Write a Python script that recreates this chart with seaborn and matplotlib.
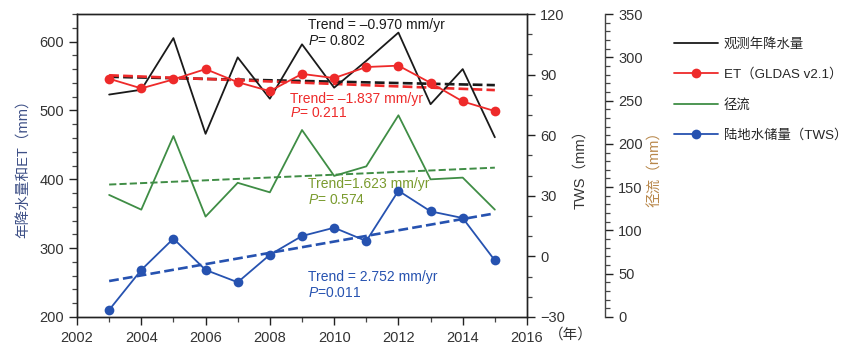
import matplotlib
matplotlib.use('Agg')
import matplotlib.pyplot as plt
from matplotlib.ticker import MultipleLocator
from matplotlib.lines import Line2D
import seaborn as sns
import numpy as np

# 数据
years = [2003, 2004, 2005, 2006, 2007, 2008, 2009, 2010, 2011, 2012, 2013, 2014, 2015]
precip = [523, 530, 605, 466, 577, 517, 596, 533, 572, 613, 509, 560, 461]
et = [546, 532, 545, 560, 541, 528, 553, 547, 563, 565, 540, 513, 499]
runoff = [141, 124, 209, 116, 155, 144, 216, 163, 174, 233, 159, 161, 124]
tws = [-26.5, -6.7, 8.8, -6.7, -12.8, 0.8, 10.1, 14.2, 7.6, 32.5, 22.3, 19.0, -2.0]

# 趋势线端点 (2003, 2015)
trend_x = [2003, 2015]
precip_trend = [548.8, 536.7]
et_trend = [551.0, 529.5]
runoff_trend = [153.0, 172.5]
tws_trend = [-12.2, 21.3]

c_black = '#1a1a1a'
c_red = '#ee2a2a'
c_green = '#3f8d45'
c_blue = '#2652b0'

sns.set_theme(style='ticks')
plt.rcParams['font.family'] = ['Liberation Sans', 'Noto Sans CJK SC', 'DejaVu Sans']
plt.rcParams['mathtext.fontset'] = 'custom'
plt.rcParams['mathtext.it'] = 'Liberation Sans:italic'
plt.rcParams['mathtext.rm'] = 'Liberation Sans'
plt.rcParams['axes.edgecolor'] = '#222222'
plt.rcParams['axes.linewidth'] = 1.0

fig = plt.figure(figsize=(8.57, 3.5), dpi=100)
ax = fig.add_axes([77 / 857, 1 - 317 / 350, 450 / 857, 303 / 350])
ax_tws = ax.twinx()
ax_run = ax.twinx()

lw = 1.3
dash = dict(linestyle='--', dashes=(2.2, 1.2), linewidth=1.9)

# 降水 & ET（左轴）
sns.lineplot(x=trend_x, y=precip_trend, ax=ax, color=c_black, **dash)
sns.lineplot(x=trend_x, y=et_trend, ax=ax, color=c_red, **dash)
sns.lineplot(x=years, y=precip, ax=ax, color=c_black, linewidth=lw)
sns.lineplot(x=years, y=et, ax=ax, color=c_red, linewidth=lw,
             marker='o', markersize=7, markeredgewidth=0)

# 径流
sns.lineplot(x=years, y=runoff, ax=ax_run, color=c_green, linewidth=lw)
sns.lineplot(x=trend_x, y=runoff_trend, ax=ax_run, color=c_green,
             linestyle='--', dashes=(2.5, 1.5), linewidth=1.4)

# TWS
sns.lineplot(x=years, y=tws, ax=ax_tws, color=c_blue, linewidth=lw,
             marker='o', markersize=7, markeredgewidth=0)
sns.lineplot(x=trend_x, y=tws_trend, ax=ax_tws, color=c_blue, **dash)

# 坐标轴
ax.set_xlim(2002, 2016)
ax.set_ylim(200, 640)
ax.xaxis.set_major_locator(MultipleLocator(2))
ax.xaxis.set_minor_locator(MultipleLocator(1))
ax.yaxis.set_major_locator(MultipleLocator(100))
ax.yaxis.set_minor_locator(MultipleLocator(20))
ax_tws.set_ylim(-30, 120)
ax_tws.yaxis.set_major_locator(MultipleLocator(30))
ax_tws.yaxis.set_minor_locator(MultipleLocator(10))
ax_run.set_ylim(0, 350)
ax_run.yaxis.set_major_locator(MultipleLocator(50))
ax_run.yaxis.set_minor_locator(MultipleLocator(10))

ax_run.spines['right'].set_position(('axes', 1.173))
for s in ['top', 'left', 'bottom']:
    ax_run.spines[s].set_visible(False)
ax_run.spines['right'].set_color('#444444')

for a in (ax, ax_tws, ax_run):
    a.tick_params(which='major', direction='out', length=6, width=1.0,
                  labelsize=10.5, labelcolor='#333333', color='#222222')
    a.tick_params(which='minor', direction='out', length=3.5, width=0.9,
                  color='#444444')
ax.tick_params(axis='x', pad=4)
ax.set_xlabel('')
ax_tws.set_xlabel('')
ax_run.set_xlabel('')

ax.set_ylabel('年降水量和ET（mm）', fontsize=10.5, color='#3d4f86', labelpad=6)
ax_tws.set_ylabel('TWS（mm）', fontsize=10.5, color='#333333', labelpad=6)
ax_run.set_ylabel('径流（mm）', fontsize=10.5, color='#b8874a', labelpad=4)

ax.annotate('（年）', xy=(2016, 200), xytext=(16, -13), textcoords='offset points',
            ha='left', va='center', fontsize=10.5, color='#333333',
            annotation_clip=False)

# 趋势标注
ts = 10
ax.text(2009.19, 624.6, 'Trend = –0.970 mm/yr', color=c_black, fontsize=ts, va='center')
ax.text(2009.19, 601, '$P$= 0.802', color=c_black, fontsize=ts, va='center')
ax.text(2008.63, 517, 'Trend= –1.837 mm/yr', color=c_red, fontsize=ts, va='center')
ax.text(2008.63, 495.6, '$P$= 0.211', color=c_red, fontsize=ts, va='center')
ax.text(2009.19, 392.8, 'Trend=1.623 mm/yr', color='#7a9b2e', fontsize=ts, va='center')
ax.text(2009.19, 369.6, '$P$= 0.574', color='#7a9b2e', fontsize=ts, va='center')
ax.text(2009.19, 258, 'Trend = 2.752 mm/yr', color=c_blue, fontsize=ts, va='center')
ax.text(2009.19, 234.8, '$P$=0.011', color=c_blue, fontsize=ts, va='center')

# 图例
handles = [
    Line2D([], [], color=c_black, linewidth=lw),
    Line2D([], [], color=c_red, linewidth=lw, marker='o', markersize=7, markeredgewidth=0),
    Line2D([], [], color=c_green, linewidth=lw),
    Line2D([], [], color=c_blue, linewidth=lw, marker='o', markersize=7, markeredgewidth=0),
]
labels = ['观测年降水量', 'ET（GLDAS v2.1）', '径流', '陆地水储量（TWS）']
fig.legend(handles, labels, loc='upper left', bbox_to_anchor=(0.772, 0.925),
           frameon=False, fontsize=9.6, handlelength=3.3, handletextpad=0.45,
           labelspacing=1.3)

fig.savefig('out.png', dpi=100)
